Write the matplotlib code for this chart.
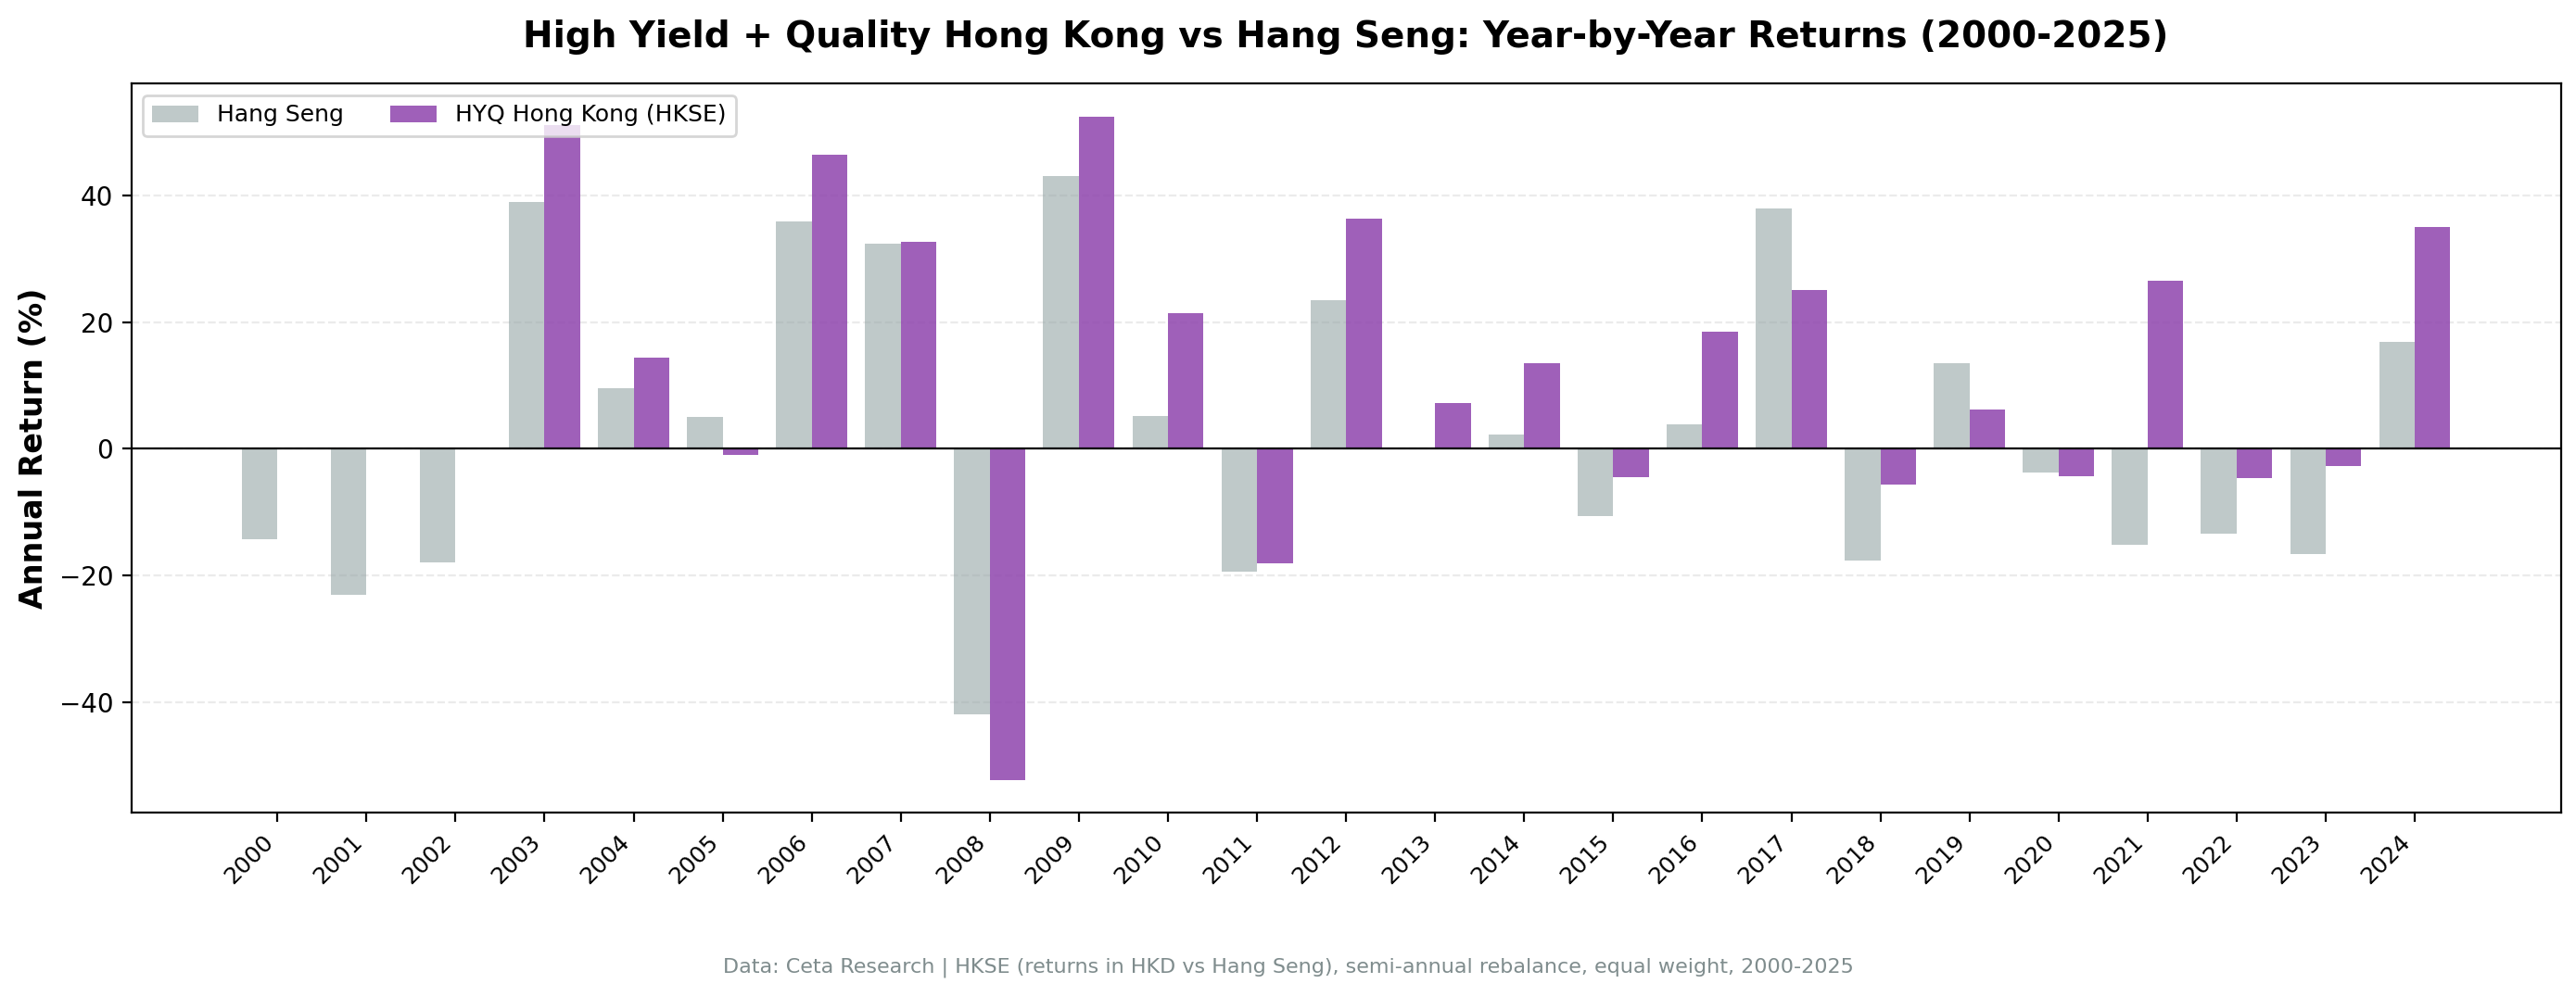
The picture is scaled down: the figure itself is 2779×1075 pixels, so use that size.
import numpy as np
import matplotlib
matplotlib.use("Agg")
import matplotlib.pyplot as plt

years = list(range(2000, 2025))
hang_seng = [-14.3, -23.1, -18.0, 39.0, 9.5, 5.0, 35.9, 32.4, -42.0, 43.1,
             5.2, -19.4, 23.5, 0.2, 2.2, -10.6, 3.8, 38.0, -17.7, 13.5,
             -3.7, -15.2, -13.4, -16.6, 16.9]
hyq_hk = [np.nan, np.nan, np.nan, 51.2, 14.4, -1.0, 46.4, 32.7, -52.3, 52.5,
          21.4, -18.1, 36.4, 7.2, 13.5, -4.5, 18.5, 25.1, -5.6, 6.2,
          -4.3, 26.6, -4.7, -2.7, 35.1]

DPI = 200
fig = plt.figure(figsize=(2779 / DPI, 1075 / DPI), dpi=DPI)
ax = fig.add_axes([141.7 / 2779, 1 - 877.3 / 1075, (2762.6 - 141.7) / 2779, (877.3 - 90) / 1075])

x = np.arange(len(years))
w = 0.4
ax.bar(x - w / 2, hang_seng, w, color="#95a5a6", alpha=0.6, label="Hang Seng")
ax.bar(x + w / 2, hyq_hk, w, color="#8e44ad", alpha=0.85, label="HYQ Hong Kong (HKSE)")
ax.axhline(0, color="black", linewidth=0.8)

ax.set_xticks(x)
ax.set_xticklabels([str(y) for y in years], rotation=45, ha="right", fontsize=9)
ax.tick_params(axis="y", labelsize=10)
ax.set_ylabel("Annual Return (%)", fontsize=12, fontweight="bold")
ax.grid(axis="y", linestyle="--", alpha=0.25)
ax.set_axisbelow(True)
ax.legend(loc="upper left", ncol=2, fontsize=9)

ax.set_title("High Yield + Quality Hong Kong vs Hang Seng: Year-by-Year Returns (2000-2025)",
             fontsize=14, fontweight="bold", pad=14)
fig.text(0.5, 1 - 1044 / 1075,
         "Data: Ceta Research | HKSE (returns in HKD vs Hang Seng), semi-annual rebalance, equal weight, 2000-2025",
         ha="center", va="center", fontsize=8, color="#7f8c8d")

fig.savefig("out.png", dpi=DPI)
